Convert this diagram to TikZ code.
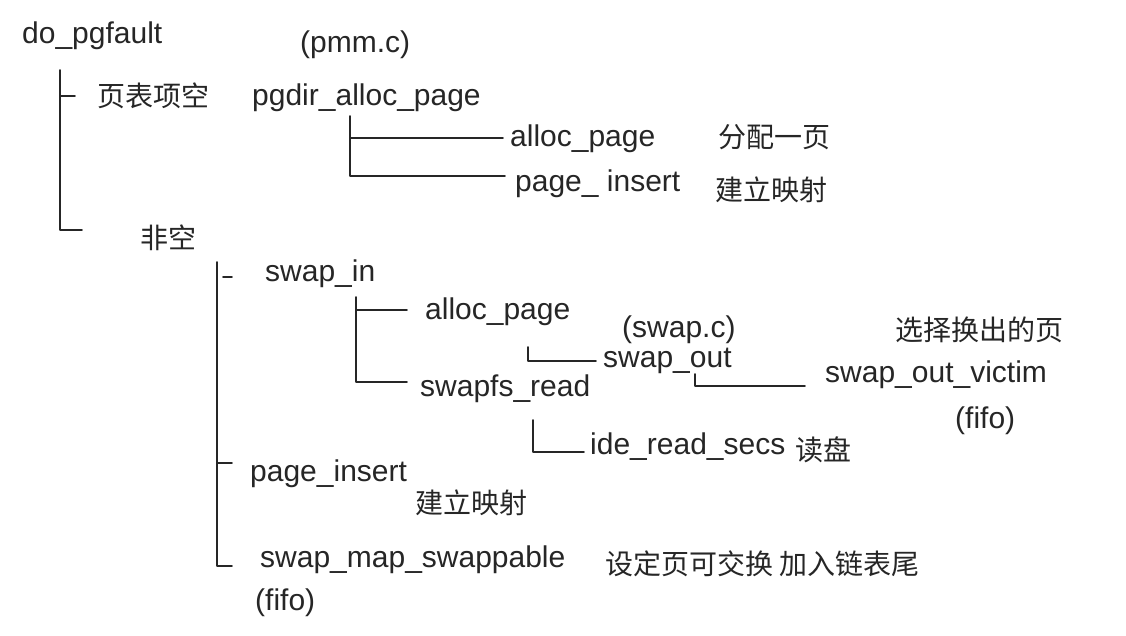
\documentclass[tikz,border=0pt]{standalone}
\usepackage{fontspec}
\setmainfont{Liberation Sans}
\newfontfamily\cjk{Noto Sans CJK SC}
\begin{document}
\begin{tikzpicture}[x=1pt,y=-1pt,
  every node/.style={inner sep=0pt, text=black!85},
  lbl/.style={font=\fontsize{30}{34}\selectfont, anchor=base west},
  cn/.style={font=\cjk\fontsize{28}{32}\selectfont, anchor=west},
  tree/.style={line width=1.6pt, draw=black!85, line cap=round, line join=round}]
\fill[white] (0,0) rectangle (1126,636);
\useasboundingbox (0,0) rectangle (1126,636);

% texts
\node[lbl] (dopg) at (22,44) {do\_pgfault};
\node[lbl] (pmm) at (300,53) {(pmm.c)};
\node[cn] (empty) at (97,96) {页表项空};
\node[lbl] (pgdir) at (252,106) {pgdir\_alloc\_page};
\node[lbl] (alloc1) at (510,147) {alloc\_page};
\node[cn] (alloc1c) at (718,137) {分配一页};
\node[lbl] (ins1) at (515,192) {page\_ insert};
\node[cn] (ins1c) at (715,190) {建立映射};
\node[cn] (nonempty) at (140,238) {非空};
\node[lbl] (swapin) at (265,281) {swap\_in};
\node[lbl] (alloc2) at (425,319) {alloc\_page};
\node[lbl] (swapc) at (622,337) {(swap.c)};
\node[lbl] (swapout) at (603,367) {swap\_out};
\node[cn] (victimc) at (895,330) {选择换出的页};
\node[lbl] (victim) at (825,382) {swap\_out\_victim};
\node[lbl] (fifoa) at (955,428) {(fifo)};
\node[lbl] (fsread) at (420,396) {swapfs\_read};
\node[lbl] (ide) at (590,454) {ide\_read\_secs};
\node[cn] (idec) at (795,450) {读盘};
\node[lbl] (ins2) at (250,481) {page\_insert};
\node[cn] (ins2c) at (415,503) {建立映射};
\node[lbl] (smap) at (260,567) {swap\_map\_swappable};
\node[cn] (smapc) at (605,564) {设定页可交换 加入链表尾};
\node[lbl] (fifob) at (255,610) {(fifo)};

% tree connectors
\coordinate (aTop) at (60,70);
\coordinate (aMid) at (75,96);
\coordinate (aEnd) at (82,230);
\draw[tree] (aTop) |- (aEnd);
\draw[tree] (aTop |- aMid) -- (aMid);

\coordinate (bTop) at (350,116);
\coordinate (bMid) at (503,138);
\coordinate (bEnd) at (505,176);
\draw[tree] (bTop) |- (bEnd);
\draw[tree] (bTop |- bMid) -- (bMid);

\coordinate (cTop) at (217,262);
\coordinate (cDashA) at (223,277);
\coordinate (cDashB) at (232,277);
\coordinate (cMid) at (232,463);
\coordinate (cEnd) at (232,566);
\draw[tree] (cTop) |- (cEnd);
\draw[tree] (cTop |- cMid) -- (cMid);
\draw[tree] (cDashA) -- (cDashB);

\coordinate (dTop) at (356,297);
\coordinate (dMid) at (407,310);
\coordinate (dEnd) at (407,382);
\draw[tree] (dTop) |- (dEnd);
\draw[tree] (dTop |- dMid) -- (dMid);

\coordinate (eTop) at (528,347);
\coordinate (eEnd) at (596,361);
\draw[tree] (eTop) |- (eEnd);

\coordinate (fTop) at (695,374);
\coordinate (fEnd) at (805,386);
\draw[tree] (fTop) |- (fEnd);

\coordinate (gTop) at (533,420);
\coordinate (gEnd) at (584,452);
\draw[tree] (gTop) |- (gEnd);
\end{tikzpicture}
\end{document}
